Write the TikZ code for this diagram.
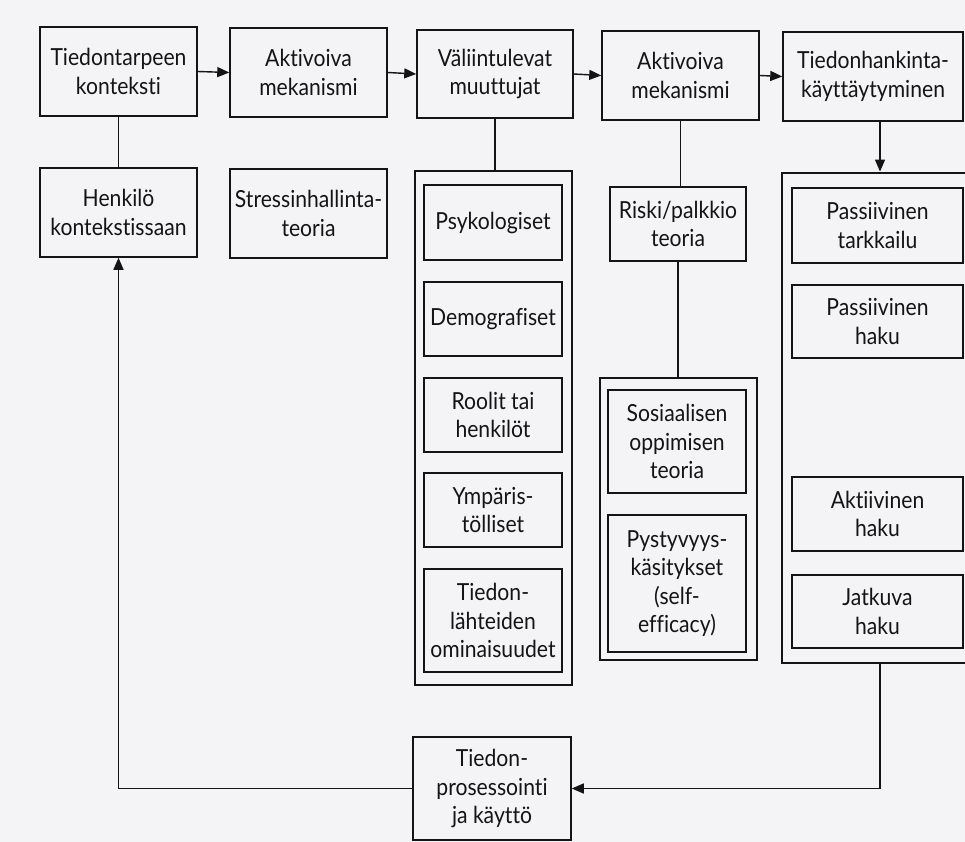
\documentclass[tikz,border=0pt]{standalone}
\usepackage{fontspec}
\setmainfont{Lato}[Ligatures=NoCommon, FakeStretch=0.9]
\usetikzlibrary{arrows.meta,calc}
\definecolor{paper}{RGB}{244,244,246}
\definecolor{ink}{RGB}{20,20,22}
\tikzset{
  box/.style={draw=ink, line width=1.5pt, align=center, inner sep=0pt,
    font=\fontsize{23.5}{28.5}\selectfont, text=ink},
  grp/.style={draw=ink, line width=2.8pt, inner sep=0pt},
  conn/.style={draw=ink, line width=1.4pt},
  arr/.style={conn, -{Triangle[length=12pt,width=10pt]}}
}
\begin{document}
\begin{tikzpicture}[x=1pt,y=-1pt]
\fill[paper] (0,0) rectangle (965,842);
\useasboundingbox (0,0) rectangle (965,842);
\clip (0,0) rectangle (965,842);
% top row
\node[box, minimum width=157pt, minimum height=89pt] (b1) at (118.5,71.5) {Tiedontarpeen\\konteksti};
\node[box, minimum width=157pt, minimum height=89pt] (b2) at (308.5,72.5) {Aktivoiva\\mekanismi};
\node[box, minimum width=156pt, minimum height=88pt] (b3) at (495,74) {Väliintulevat\\muuttujat};
\node[box, minimum width=157pt, minimum height=89pt] (b4) at (680.5,75.5) {Aktivoiva\\mekanismi};
\node[box, minimum width=180pt, minimum height=89pt] (b5) at (873,76.5) {Tiedonhankinta-\\käyttäytyminen};
% second row
\node[box, minimum width=157pt, minimum height=89pt] (henk) at (118.5,212.5) {Henkilö\\kontekstissaan};
\node[box, minimum width=157pt, minimum height=89pt] (stress) at (308.5,213.5) {Stressinhallinta-\\teoria};
% middle group
\node[grp, minimum width=157pt, minimum height=514pt] (mg) at (493.5,428) {};
\node[box, minimum width=138pt, minimum height=75pt] (psy) at (493,222.5) {Psykologiset};
\node[box, minimum width=138pt, minimum height=74pt] (demo) at (493,319) {Demografiset};
\node[box, minimum width=138pt, minimum height=74pt] (rool) at (493,415) {Roolit tai\\henkilöt};
\node[box, minimum width=138pt, minimum height=74pt] (ymp) at (493,510) {Ympäris-\\tölliset};
\node[box, minimum width=138pt, minimum height=103pt] (tl) at (493,620.5) {Tiedon-\\lähteiden\\ominaisuudet};
% riski and lower group
\node[box, minimum width=136pt, minimum height=74pt] (riski) at (678,224) {Riski/palkkio\\teoria};
\node[grp, minimum width=157pt, minimum height=282pt] (lg) at (678.5,519) {};
\node[box, minimum width=138pt, minimum height=103pt] (sos) at (677,441.5) {Sosiaalisen\\oppimisen\\teoria};
\node[box, minimum width=138pt, minimum height=137pt] (pys) at (677,583.5) {Pystyvyys-\\käsitykset\\(self-\\efficacy)};
% right group
\node[grp, minimum width=196pt, minimum height=490pt] (rg) at (880,418) {};
\node[box, minimum width=171pt, minimum height=75pt] (pt) at (877.5,225.5) {Passiivinen\\tarkkailu};
\node[box, minimum width=171pt, minimum height=73pt] (ph) at (877.5,321.5) {Passiivinen\\haku};
\node[box, minimum width=171pt, minimum height=74pt] (ah) at (877.5,514) {Aktiivinen\\haku};
\node[box, minimum width=171pt, minimum height=73pt] (jh) at (877.5,611.5) {Jatkuva\\haku};
% processing
\node[box, minimum width=158pt, minimum height=103pt] (proc) at (492,788.5) {Tiedon-\\prosessointi\\ja käyttö};
% connectors
\draw[arr] (b1.east) -- (b2.west);
\draw[arr] (b2.east) -- (b3.west);
\draw[arr] (b3.east) -- (b4.west);
\draw[arr] (b4.east) -- (b5.west);
\draw[conn] (b1.south) -- (henk.north);
\draw[conn] (b3.south) -- (b3.south |- mg.north);
\draw[conn] (b4.south) -- (b4.south |- riski.north);
\draw[conn] (riski.south) -- (riski.south |- lg.north);
\draw[arr] (b5.south -| rg.north) -- (rg.north);
\draw[arr] (rg.south) |- (proc.east);
\draw[arr] (proc.west) -| (henk.south);
\end{tikzpicture}
\end{document}
